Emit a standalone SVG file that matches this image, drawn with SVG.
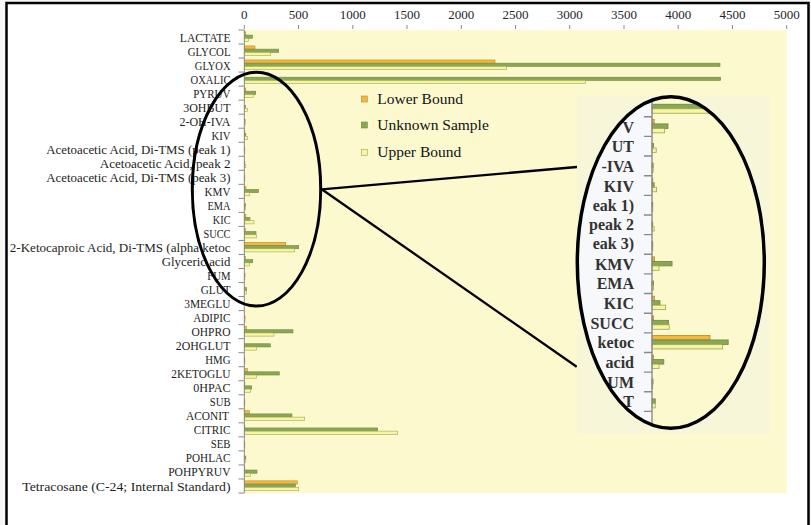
<svg xmlns="http://www.w3.org/2000/svg" xmlns:xlink="http://www.w3.org/1999/xlink" width="811" height="525" viewBox="0 0 811 525">
<style>
.lbl{font-family:"Liberation Serif",serif;font-size:12.5px;fill:#1e1e1e;text-anchor:end}
.tk{font-family:"Liberation Serif",serif;font-size:13px;fill:#262626;text-anchor:middle}
.lg{font-family:"Liberation Serif",serif;font-size:15.5px;fill:#111}
.il{font-family:"Liberation Serif",serif;font-size:16px;font-weight:bold;fill:#333;text-anchor:end}
.lo{fill:#f3b83c;stroke:#c28a22;stroke-width:0.6}
.un{fill:#8ba655;stroke:#6e8a3d;stroke-width:0.6}
.up{fill:#f8f4a4;stroke:#9dab52;stroke-width:0.6}
.ax{stroke:#8a8a8a;stroke-width:1;fill:none}
.ring{fill:none;stroke:#000;stroke-width:3}
.conn{stroke:#000;stroke-width:2.3;fill:none}
</style>
<defs>
<clipPath id="clipE"><ellipse cx="670.8" cy="262.5" rx="93.5" ry="165.8"/></clipPath>
</defs>
<rect x="0" y="0" width="811" height="525" fill="#f8f6f6"/>
<rect id="frame" x="6.5" y="3" width="802" height="530" fill="#fff" stroke="#000" stroke-width="2.5"/>

<g id="ticklabels">
<text class="tk" x="244.3" y="19">0</text>
<text class="tk" x="298.5" y="19">500</text>
<text class="tk" x="352.8" y="19">1000</text>
<text class="tk" x="407.0" y="19">1500</text>
<text class="tk" x="461.3" y="19">2000</text>
<text class="tk" x="515.5" y="19">2500</text>
<text class="tk" x="569.7" y="19">3000</text>
<text class="tk" x="624.0" y="19">3500</text>
<text class="tk" x="678.2" y="19">4000</text>
<text class="tk" x="732.5" y="19">4500</text>
<text class="tk" x="786.7" y="19">5000</text>
<path class="ax" d="M244.3 25V29M298.5 25V29M352.8 25V29M407 25V29M461.3 25V29M515.5 25V29M569.7 25V29M624 25V29M678.2 25V29M732.5 25V29M786.7 25V29"/>
</g>

<g id="labels">
<text class="lbl" x="230.5" y="41.5" textLength="50.7" lengthAdjust="spacingAndGlyphs">LACTATE</text>
<text class="lbl" x="230.5" y="55.5" textLength="42.7" lengthAdjust="spacingAndGlyphs">GLYCOL</text>
<text class="lbl" x="230.5" y="69.6" textLength="35.7" lengthAdjust="spacingAndGlyphs">GLYOX</text>
<text class="lbl" x="230.5" y="83.6" textLength="40" lengthAdjust="spacingAndGlyphs">OXALIC</text>
<text class="lbl" x="230.5" y="97.6" textLength="37.3" lengthAdjust="spacingAndGlyphs">PYRUV</text>
<text class="lbl" x="230.5" y="111.7" textLength="47.3" lengthAdjust="spacingAndGlyphs">3OHBUT</text>
<text class="lbl" x="230.5" y="125.7" textLength="51" lengthAdjust="spacingAndGlyphs">2-OH-IVA</text>
<text class="lbl" x="230.5" y="139.7" textLength="19" lengthAdjust="spacingAndGlyphs">KIV</text>
<text class="lbl" x="230.5" y="153.7" textLength="184.3" lengthAdjust="spacingAndGlyphs">Acetoacetic Acid, Di-TMS (peak 1)</text>
<text class="lbl" x="230.5" y="167.8" textLength="130.7" lengthAdjust="spacingAndGlyphs">Acetoacetic Acid, peak 2</text>
<text class="lbl" x="230.5" y="181.8" textLength="184.3" lengthAdjust="spacingAndGlyphs">Acetoacetic Acid, Di-TMS (peak 3)</text>
<text class="lbl" x="230.5" y="195.8" textLength="26" lengthAdjust="spacingAndGlyphs">KMV</text>
<text class="lbl" x="230.5" y="209.9" textLength="23" lengthAdjust="spacingAndGlyphs">EMA</text>
<text class="lbl" x="230.5" y="223.9" textLength="17.7" lengthAdjust="spacingAndGlyphs">KIC</text>
<text class="lbl" x="230.5" y="237.9" textLength="27" lengthAdjust="spacingAndGlyphs">SUCC</text>
<text class="lbl" x="230.5" y="252.0" textLength="220.7" lengthAdjust="spacingAndGlyphs">2-Ketocaproic Acid, Di-TMS (alpha ketoc</text>
<text class="lbl" x="230.5" y="266.0" textLength="68.7" lengthAdjust="spacingAndGlyphs">Glyceric acid</text>
<text class="lbl" x="230.5" y="280.0" textLength="23.3" lengthAdjust="spacingAndGlyphs">FUM</text>
<text class="lbl" x="230.5" y="294.0" textLength="29.7" lengthAdjust="spacingAndGlyphs">GLUT</text>
<text class="lbl" x="230.5" y="308.1" textLength="46.3" lengthAdjust="spacingAndGlyphs">3MEGLU</text>
<text class="lbl" x="230.5" y="322.1" textLength="37.3" lengthAdjust="spacingAndGlyphs">ADIPIC</text>
<text class="lbl" x="230.5" y="336.1" textLength="39" lengthAdjust="spacingAndGlyphs">OHPRO</text>
<text class="lbl" x="230.5" y="350.2" textLength="54.7" lengthAdjust="spacingAndGlyphs">2OHGLUT</text>
<text class="lbl" x="230.5" y="364.2" textLength="25.3" lengthAdjust="spacingAndGlyphs">HMG</text>
<text class="lbl" x="230.5" y="378.2" textLength="59.3" lengthAdjust="spacingAndGlyphs">2KETOGLU</text>
<text class="lbl" x="230.5" y="392.3" textLength="37.3" lengthAdjust="spacingAndGlyphs">0HPAC</text>
<text class="lbl" x="230.5" y="406.3" textLength="20.7" lengthAdjust="spacingAndGlyphs">SUB</text>
<text class="lbl" x="229" y="420.3" textLength="43" lengthAdjust="spacingAndGlyphs">ACONIT</text>
<text class="lbl" x="230.5" y="434.3" textLength="36.7" lengthAdjust="spacingAndGlyphs">CITRIC</text>
<text class="lbl" x="230.5" y="448.4" textLength="19.7" lengthAdjust="spacingAndGlyphs">SEB</text>
<text class="lbl" x="230.5" y="462.4" textLength="44.7" lengthAdjust="spacingAndGlyphs">POHLAC</text>
<text class="lbl" x="230.5" y="476.4" textLength="62.3" lengthAdjust="spacingAndGlyphs">POHPYRUV</text>
<text class="lbl" x="230.5" y="490.5" textLength="208.3" lengthAdjust="spacingAndGlyphs">Tetracosane (C-24; Internal Standard)</text>
</g>

<g id="plotcore">
<rect x="244.3" y="30" width="542.4" height="463" fill="#fcf9cf"/>
<g id="bars">
<g transform="translate(244.3,30.00)"><rect class="lo" y="1.9" width="1.5" height="3.2"/><rect class="un" y="5.1" width="8" height="3.2"/><rect class="up" y="8.3" width="4" height="3.2"/></g>
<g transform="translate(244.3,44.03)"><rect class="lo" y="1.9" width="10.7" height="3.2"/><rect class="un" y="5.1" width="34.4" height="3.2"/><rect class="up" y="8.3" width="26.4" height="3.2"/></g>
<g transform="translate(244.3,58.06)"><rect class="lo" y="1.9" width="250.7" height="3.2"/><rect class="un" y="5.1" width="475.7" height="3.2"/><rect class="up" y="8.3" width="262.4" height="3.2"/></g>
<g transform="translate(244.3,72.09)"><rect class="un" y="5.1" width="476.4" height="3.2"/><rect class="up" y="8.3" width="341.4" height="3.2"/></g>
<g transform="translate(244.3,86.12)"><rect class="lo" y="1.9" width="1.5" height="3.2"/><rect class="un" y="5.1" width="11.4" height="3.2"/><rect class="up" y="8.3" width="9" height="3.2"/></g>
<g transform="translate(244.3,100.15)"><rect class="un" y="5.1" width="1" height="3.2"/><rect class="up" y="8.3" width="3" height="3.2"/></g>
<g transform="translate(244.3,114.18)"><rect class="un" y="5.1" width="0.8" height="3.2"/><rect class="up" y="8.3" width="0.8" height="3.2"/></g>
<g transform="translate(244.3,128.21)"><rect class="lo" y="1.9" width="0.5" height="3.2"/><rect class="un" y="5.1" width="1.5" height="3.2"/><rect class="up" y="8.3" width="3.3" height="3.2"/></g>
<g transform="translate(244.3,142.24)"><rect class="un" y="5.1" width="0.5" height="3.2"/><rect class="up" y="8.3" width="0.5" height="3.2"/></g>
<g transform="translate(244.3,156.27)"><rect class="un" y="5.1" width="0.5" height="3.2"/><rect class="up" y="8.3" width="1.5" height="3.2"/></g>
<g transform="translate(244.3,170.30)"><rect class="un" y="5.1" width="0.5" height="3.2"/><rect class="up" y="8.3" width="0.5" height="3.2"/></g>
<g transform="translate(244.3,184.33)"><rect class="lo" y="1.9" width="1.7" height="3.2"/><rect class="un" y="5.1" width="14.3" height="3.2"/><rect class="up" y="8.3" width="5" height="3.2"/></g>
<g transform="translate(244.3,198.36)"><rect class="un" y="5.1" width="1" height="3.2"/><rect class="up" y="8.3" width="1" height="3.2"/></g>
<g transform="translate(244.3,212.39)"><rect class="lo" y="1.9" width="1.7" height="3.2"/><rect class="un" y="5.1" width="5.7" height="3.2"/><rect class="up" y="8.3" width="9.7" height="3.2"/></g>
<g transform="translate(244.3,226.42)"><rect class="lo" y="1.9" width="1" height="3.2"/><rect class="un" y="5.1" width="11.7" height="3.2"/><rect class="up" y="8.3" width="12.3" height="3.2"/></g>
<g transform="translate(244.3,240.45)"><rect class="lo" y="1.9" width="41.4" height="3.2"/><rect class="un" y="5.1" width="54.4" height="3.2"/><rect class="up" y="8.3" width="50.4" height="3.2"/></g>
<g transform="translate(244.3,254.48)"><rect class="lo" y="1.9" width="1" height="3.2"/><rect class="un" y="5.1" width="8.4" height="3.2"/><rect class="up" y="8.3" width="5" height="3.2"/></g>
<g transform="translate(244.3,268.51)"><rect class="un" y="5.1" width="0.7" height="3.2"/><rect class="up" y="8.3" width="0.5" height="3.2"/></g>
<g transform="translate(244.3,282.54)"><rect class="un" y="5.1" width="2.3" height="3.2"/><rect class="up" y="8.3" width="2.3" height="3.2"/></g>
<g transform="translate(244.3,310.60)"><rect class="un" y="5.1" width="0.7" height="3.2"/><rect class="up" y="8.3" width="0.7" height="3.2"/></g>
<g transform="translate(244.3,324.63)"><rect class="lo" y="1.9" width="2" height="3.2"/><rect class="un" y="5.1" width="48.7" height="3.2"/><rect class="up" y="8.3" width="29.7" height="3.2"/></g>
<g transform="translate(244.3,338.66)"><rect class="un" y="5.1" width="26" height="3.2"/><rect class="up" y="8.3" width="12.3" height="3.2"/></g>
<g transform="translate(244.3,352.69)"><rect class="un" y="5.1" width="0.5" height="3.2"/><rect class="up" y="8.3" width="0.5" height="3.2"/></g>
<g transform="translate(244.3,366.72)"><rect class="lo" y="1.9" width="3" height="3.2"/><rect class="un" y="5.1" width="35" height="3.2"/><rect class="up" y="8.3" width="12.3" height="3.2"/></g>
<g transform="translate(244.3,380.75)"><rect class="lo" y="1.9" width="0.5" height="3.2"/><rect class="un" y="5.1" width="7.4" height="3.2"/><rect class="up" y="8.3" width="6.4" height="3.2"/></g>
<g transform="translate(244.3,394.78)"><rect class="un" y="5.1" width="0.5" height="3.2"/><rect class="up" y="8.3" width="0.5" height="3.2"/></g>
<g transform="translate(244.3,408.81)"><rect class="lo" y="1.9" width="5" height="3.2"/><rect class="un" y="5.1" width="47.7" height="3.2"/><rect class="up" y="8.3" width="60.4" height="3.2"/></g>
<g transform="translate(244.3,422.84)"><rect class="lo" y="1.9" width="0.5" height="3.2"/><rect class="un" y="5.1" width="133.4" height="3.2"/><rect class="up" y="8.3" width="153.4" height="3.2"/></g>
<g transform="translate(244.3,436.87)"><rect class="un" y="5.1" width="0.5" height="3.2"/><rect class="up" y="8.3" width="0.5" height="3.2"/></g>
<g transform="translate(244.3,450.90)"><rect class="un" y="5.1" width="1.5" height="3.2"/><rect class="up" y="8.3" width="1.5" height="3.2"/></g>
<g transform="translate(244.3,464.93)"><rect class="lo" y="1.9" width="0.5" height="3.2"/><rect class="un" y="5.1" width="12.7" height="3.2"/><rect class="up" y="8.3" width="6" height="3.2"/></g>
<g transform="translate(244.3,478.96)"><rect class="lo" y="1.9" width="53" height="3.2"/><rect class="un" y="5.1" width="51" height="3.2"/><rect class="up" y="8.3" width="54.4" height="3.2"/></g>
</g>
<g id="vaxis">
<path class="ax" d="M244.3 30V493"/>
<path class="ax" d="M238.5 30H244.3M238.5 44.03H244.3M238.5 58.06H244.3M238.5 72.09H244.3M238.5 86.12H244.3M238.5 100.15H244.3M238.5 114.18H244.3M238.5 128.21H244.3M238.5 142.24H244.3M238.5 156.27H244.3M238.5 170.3H244.3M238.5 184.33H244.3M238.5 198.36H244.3M238.5 212.39H244.3M238.5 226.42H244.3M238.5 240.45H244.3M238.5 254.48H244.3M238.5 268.51H244.3M238.5 282.54H244.3M238.5 296.57H244.3M238.5 310.6H244.3M238.5 324.63H244.3M238.5 338.66H244.3M238.5 352.69H244.3M238.5 366.72H244.3M238.5 380.75H244.3M238.5 394.78H244.3M238.5 408.81H244.3M238.5 422.84H244.3M238.5 436.87H244.3M238.5 450.9H244.3M238.5 464.93H244.3M238.5 478.96H244.3M238.5 493H244.3"/>
</g>
</g>

<g id="legend">
<rect class="lo" x="361.3" y="96" width="6" height="6"/>
<text class="lg" x="377.3" y="104">Lower Bound</text>
<rect class="un" x="361.3" y="122" width="6" height="6"/>
<text class="lg" x="377.3" y="130">Unknown Sample</text>
<rect class="up" x="361.3" y="149.3" width="6" height="6"/>
<text class="lg" x="377.3" y="156.5">Upper Bound</text>
</g>

<g id="focus-ellipse">
<ellipse class="ring" cx="256.5" cy="189.2" rx="64.2" ry="116.9"/>
</g>

<g id="connectors">
<line class="conn" x1="321.7" y1="189.3" x2="588.3" y2="166"/>
<line class="conn" x1="321.7" y1="189.3" x2="576.7" y2="366.7"/>
</g>

<g id="magnifier">
<rect x="577" y="96" width="193" height="338" fill="#f8f6d8"/>
<g clip-path="url(#clipE)">
<rect x="570" y="90" width="82" height="345" fill="#f7f8fb"/>
<use xlink:href="#plotcore" transform="matrix(1.4 0 0 1.4 310 -3.8)"/>
<text class="il" x="634" y="132.6">V</text>
<text class="il" x="634" y="152.2">UT</text>
<text class="il" x="634" y="171.9">-IVA</text>
<text class="il" x="634" y="191.8">KIV</text>
<text class="il" x="634" y="211.1">eak 1)</text>
<text class="il" x="634" y="230.3">peak 2</text>
<text class="il" x="634" y="249.4">eak 3)</text>
<text class="il" x="634" y="269.8">KMV</text>
<text class="il" x="634" y="289.4">EMA</text>
<text class="il" x="634" y="309.0">KIC</text>
<text class="il" x="634" y="328.7">SUCC</text>
<text class="il" x="634" y="348.3">ketoc</text>
<text class="il" x="634" y="368.0">acid</text>
<text class="il" x="634" y="387.6">UM</text>
<text class="il" x="634" y="407.3">T</text>
</g>
<ellipse cx="670.8" cy="262.5" rx="93.5" ry="165.8" fill="none" stroke="#000" stroke-width="3.5"/>
</g>
</svg>
